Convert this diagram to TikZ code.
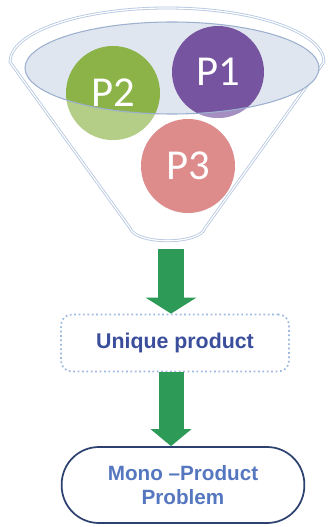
\documentclass[tikz,border=0pt]{standalone}
\usepackage{fontspec}
\setmainfont{Liberation Sans}
\newfontfamily\pfont{Carlito}
\usetikzlibrary{arrows.meta}
\definecolor{rimblue}{HTML}{B3C5E0}
\definecolor{bowlfill}{HTML}{E0E6F0}
\definecolor{bowlline}{HTML}{9CB0CF}
\definecolor{pone}{HTML}{7654A0}
\definecolor{ptwo}{HTML}{8CB347}
\definecolor{pthree}{HTML}{DE8B8B}
\definecolor{arrowgreen}{HTML}{2E9A58}
\definecolor{dotblue}{HTML}{9EB8E0}
\definecolor{textblue}{HTML}{3B4E9C}
\definecolor{monoline}{HTML}{2C4170}
\definecolor{monotext}{HTML}{5577C0}
\tikzset{
  plabel/.style={text=white, font=\pfont\fontsize{32}{32}\selectfont},
  fatarrow/.style={draw=arrowgreen, line width=19.5pt,
    -{Triangle[width=37.5pt,length=12pt]}},
  uniquebox/.style={draw=dotblue, dotted, line width=1.3pt, rounded corners=8pt,
    minimum width=171pt, minimum height=42.75pt,
    text=textblue, font=\bfseries\fontsize{16}{19}\selectfont},
  monobox/.style={draw=monoline, line width=1.3pt, rounded corners=28pt,
    minimum width=182pt, minimum height=57pt, align=center,
    text=monotext, font=\bfseries\fontsize{15.5}{18}\selectfont}
}
\begin{document}
\begin{tikzpicture}[x=0.75pt,y=-0.75pt]
            \useasboundingbox (0,0) rectangle (328,527);
            % funnel
            \draw[draw=rimblue, line width=0.6pt, double=white, double distance=0.9pt, fill=white]
                (10,62) arc[start angle=180, end angle=360, x radius=157, y radius=54]
                -- (205,228) .. controls (200,245) and (135,245) .. (130,228) -- cycle;
            \fill[bowlfill] (172,68) ellipse [x radius=147, y radius=46];
            \coordinate (c1) at (218,72);
            \coordinate (c2) at (113,93);
            \coordinate (c3) at (188,166);
            \fill[pthree] (c3) circle [radius=47];
            \fill[ptwo] (c2) circle [radius=47];
            \fill[pone] (c1) circle [radius=46];
            % lighter below the rim
            \begin{scope}
                \clip (c2) circle [radius=47] (c1) circle [radius=46];
                \fill[white, opacity=.35, even odd rule] (0,0) rectangle (328,260)
                    (172,68) ellipse [x radius=147, y radius=46];
            \end{scope}
            \draw[bowlline, line width=0.8pt] (172,68) ellipse [x radius=147, y radius=46];
            \node[plabel] (p1) at (c1) {P1};
            \node[plabel] (p2) at (c2) {P2};
            \node[plabel] (p3) at (c3) {P3};
            \coordinate (spout) at (171,249);
            \node[uniquebox] (unique) at (175,343) {Unique product};
            \node[monobox] (mono) at (183,485) {Mono --Product\\Problem};
            \draw[fatarrow] (spout) -- (spout |- unique.north);
            \draw[fatarrow, line width=18.75pt, -{Triangle[width=30pt,length=12.75pt]}]
                (unique.south -| spout) -- (mono.north -| spout);
        \end{tikzpicture}
\end{document}
